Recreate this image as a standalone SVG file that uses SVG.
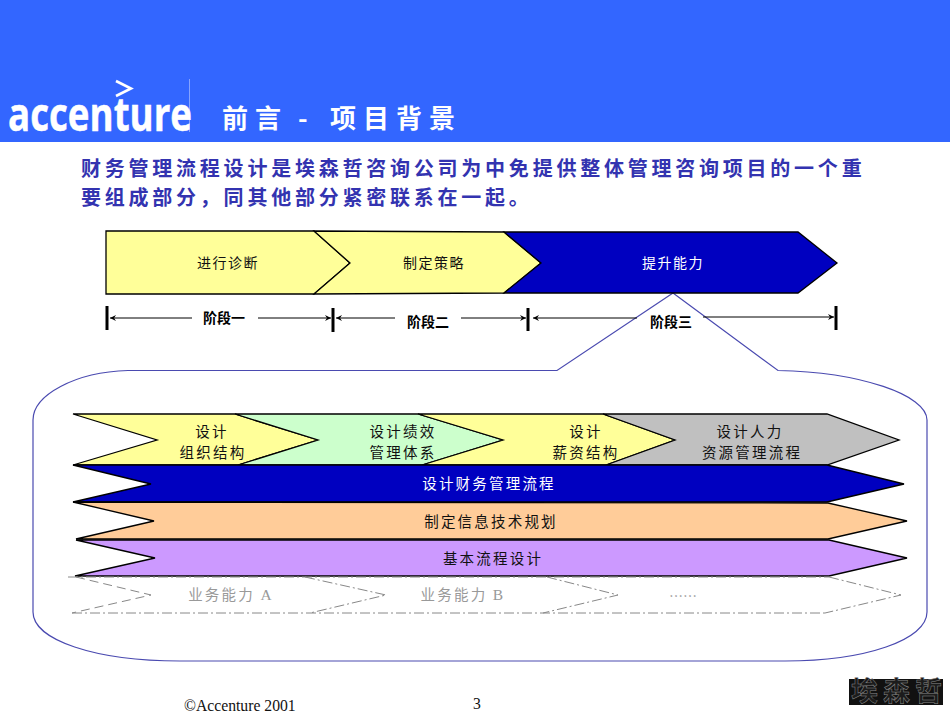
<svg xmlns="http://www.w3.org/2000/svg" width="950" height="713" viewBox="0 0 950 713">
<style>
text{font-family:"Noto Sans CJK SC","Liberation Sans",sans-serif;fill:#111}
.c{text-anchor:middle;dominant-baseline:central;font-size:14px;letter-spacing:1.5px}
.i{text-anchor:middle;dominant-baseline:central;font-size:14.5px;letter-spacing:2.2px}
.cap{text-anchor:middle;font-size:14.5px;letter-spacing:2.2px;fill:#999}
.ph{text-anchor:middle;dominant-baseline:central;font-size:14px;font-weight:700;fill:#000}
.s{stroke:#000;stroke-width:1.3;stroke-linejoin:miter}
.w{fill:#fff}
.g{fill:#999}
.dash{fill:none;stroke:#888;stroke-width:1}
.bar{stroke:#000;stroke-width:3;fill:none}
.rng{stroke:#000;stroke-width:1;fill:none}
.intro{font-size:20px;font-weight:700;fill:#3333b0;letter-spacing:3.77px}
.foot{font-family:"Liberation Serif",serif;font-size:15.7px;fill:#111}
.lat{font-family:"Liberation Serif",serif;fill:#999;font-size:15.5px}
</style>
<defs>
<marker id="arr" markerWidth="8" markerHeight="8" refX="7" refY="4" orient="auto-start-reverse" markerUnits="userSpaceOnUse">
<path d="M1,1 L7,4 L1,7 L3,4 Z" fill="#000"/>
</marker>
</defs>
<g id="header">
<rect x="0" y="0" width="950" height="142" fill="#3366ff"/>
<line x1="189.5" y1="79" x2="189.5" y2="132" stroke="#86a3ff" stroke-width="1"/>
<polyline points="116,81 131,88.500 116,96" fill="none" stroke="#fff" stroke-width="2.600"/>
<text x="8" y="131" font-size="47" font-weight="700" textLength="184" lengthAdjust="spacingAndGlyphs" style="fill:#fff;stroke:#fff;stroke-width:.5;font-family:'Open Sans',sans-serif">accenture</text>
<text x="222 255 290 298 320 330 363 396 429" y="128" font-size="26" font-weight="700" class="w">前言 - 项目背景</text>
</g>
<g id="intro">
<text x="81" y="176" class="intro">财务管理流程设计是埃森哲咨询公司为中免提供整体管理咨询项目的一个重</text>
<text x="81" y="205" class="intro">要组成部分，同其他部分紧密联系在一起。</text>
</g>
<g id="callout">
<path d="M673,293 L557,370.500 L128,370.500 C75,372 33,395 33,420 L33,612 C33,640 95,661 180,661 L785,661 C865,661 927,640 927,612 L927,420 C927,395 860,372 778,370.500 Z" fill="none" stroke="#4a4ab0" stroke-width="1.2"/>
</g>
<g id="connectors">
<line x1="107" y1="306" x2="107" y2="330" class="bar"/>
<line x1="333" y1="308" x2="333" y2="332" class="bar"/>
<line x1="528" y1="308" x2="528" y2="331" class="bar"/>
<line x1="836" y1="306" x2="836" y2="330" class="bar"/>
<line x1="110" y1="318" x2="192" y2="318" class="rng" marker-start="url(#arr)"/>
<line x1="258" y1="318" x2="331" y2="318" class="rng" marker-end="url(#arr)"/>
<line x1="336" y1="318" x2="395" y2="318" class="rng" marker-start="url(#arr)"/>
<line x1="461" y1="318" x2="526" y2="318" class="rng" marker-end="url(#arr)"/>
<line x1="533" y1="318" x2="637" y2="318" class="rng" marker-start="url(#arr)"/>
<line x1="703" y1="317" x2="834" y2="317" class="rng" marker-end="url(#arr)"/>
</g>
<g id="phase-label-1"><text x="224" y="317" class="ph">阶段一</text></g>
<g id="phase-label-2"><text x="428" y="321" class="ph">阶段二</text></g>
<g id="phase-label-3"><text x="671" y="321" class="ph">阶段三</text></g>
<g id="step-diagnose">
<polygon points="106,231 314,231 350,263 314,294 106,294" fill="#ffff99" class="s"/>
<text x="228" y="262" class="c">进行诊断</text>
</g>
<g id="step-strategy">
<polygon points="314,231 504,232 541,263 504,293 314,294 350,263" fill="#ffff99" class="s"/>
<text x="434" y="262" class="c">制定策略</text>
</g>
<g id="step-capability">
<polygon points="504,232 798,232 837,263 798,293 504,293 541,263" fill="#0000c0" class="s"/>
<text x="673" y="262" class="c w">提升能力</text>
</g>
<g id="design-org">
<polygon points="73,414 235,414 318,440 238,465 73,465 157,440" fill="#ffff99" class="s"/>
<text x="212" y="430" class="i">设计</text>
<text x="213" y="451" class="i">组织结构</text>
</g>
<g id="design-perf">
<polygon points="235,414 418,414 503,440 422,465 238,465 318,440" fill="#ccffcc" class="s"/>
<text x="403" y="430" class="i">设计绩效</text>
<text x="403" y="451" class="i">管理体系</text>
</g>
<g id="design-pay">
<polygon points="418,414 603,414 675,440 606,465 422,465 503,440" fill="#ffff99" class="s"/>
<text x="586" y="430" class="i">设计</text>
<text x="586" y="451" class="i">薪资结构</text>
</g>
<g id="design-hr">
<polygon points="603,414 827,414 899,440 827,465 606,465 675,440" fill="#c0c0c0" class="s"/>
<text x="750" y="430" class="i">设计人力</text>
<text x="752" y="451" class="i">资源管理流程</text>
</g>
<g id="band-finance">
<polygon points="73,465 827,465 904,484 827,502 73,502 151,484" fill="#0000c0" class="s"/>
<text x="489" y="482" class="i w">设计财务管理流程</text>
</g>
<g id="band-it">
<polygon points="73,502 828,503 907,521 828,539 76,539 154,521" fill="#ffcc99" class="s"/>
<text x="491" y="520" class="i">制定信息技术规划</text>
</g>
<g id="band-basic">
<polygon points="76,540 829,540 907,558 829,576 75,576 155,558" fill="#cc99ff" class="s"/>
<text x="493" y="557" class="i">基本流程设计</text>
</g>
<g id="capabilities">
<path d="M68,577 H829 M72,613 H825" class="dash" stroke-dasharray="10 3 2 3"/>
<path d="M76,577 L151,595 L72,613" class="dash" stroke-dasharray="9 5"/>
<path d="M305,577 L386,595 L310,613" class="dash" stroke-dasharray="10 3 2 3"/>
<path d="M547,577 L618,595 L543,613" class="dash" stroke-dasharray="10 3 2 3"/>
<path d="M829,577 L901,595 L825,613" class="dash" stroke-dasharray="10 3 2 3"/>
<text x="231" y="600" class="cap">业务能力 <tspan class="lat">A</tspan></text>
<text x="463" y="600" class="cap">业务能力 <tspan class="lat">B</tspan></text>
<text x="683" y="595" class="g" text-anchor="middle" dominant-baseline="central" font-size="14">……</text>
</g>
<g id="footer">
<text x="184" y="711" class="foot">©Accenture 2001</text>
<text x="473" y="709" class="foot">3</text>
</g>
<g id="logo-cn">
<rect x="849" y="679" width="94" height="26" fill="#111"/>
<text x="851 883 915" y="701" font-size="27" font-weight="700" style="fill:#1c1c1c;stroke:#8a8a8a;stroke-width:.5">埃森哲</text>
</g>
</svg>
